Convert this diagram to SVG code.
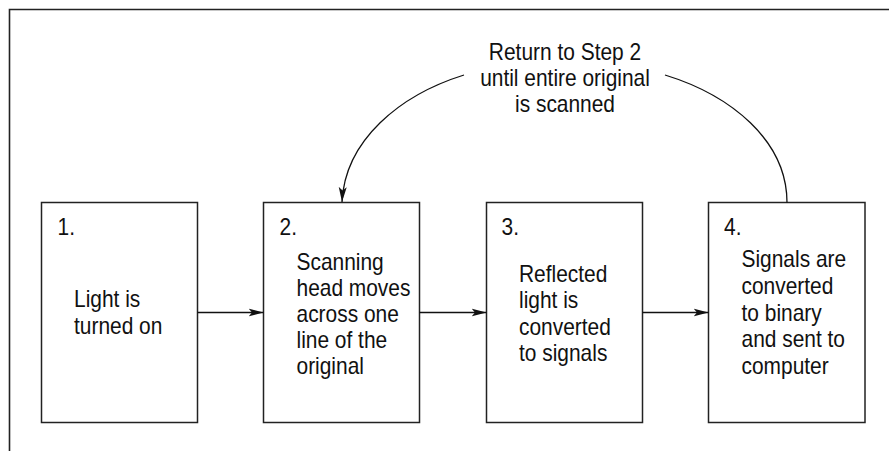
<svg xmlns="http://www.w3.org/2000/svg" width="889" height="451" viewBox="0 0 889 451">
<style>
.box{fill:#fff;stroke:#222;stroke-width:1.5}
.frame{fill:none;stroke:#222;stroke-width:1.6}
.con{fill:none;stroke:#111;stroke-width:1.3}
text{font-family:"Liberation Sans",Arial,sans-serif;font-size:23px;fill:#111}
.mid{text-anchor:middle}
</style>
<defs>
<marker id="ah" markerUnits="userSpaceOnUse" markerWidth="16" markerHeight="9" refX="15" refY="4.5" orient="auto">
<path d="M0,0.5 L15,4.5 L0,8.5 L3.5,4.5 z" fill="#111"/>
</marker>
</defs>
<path class="frame" d="M9.5,451 L9.5,9.5 L889,9.5"/>
<g id="label-loop" transform="translate(565 0) scale(0.91 1)">
<text class="mid" x="0" y="60">Return to Step 2</text>
<text class="mid" x="0" y="86">until entire original</text>
<text class="mid" x="0" y="112">is scanned</text>
</g>
<g id="step1">
<rect class="box" x="41.5" y="202.5" width="156" height="220"/>
<g transform="translate(57.5 0) scale(0.91 1)"><text x="0" y="235">1.</text></g>
<g transform="translate(74 0) scale(0.91 1)">
<text x="0" y="307.5">Light is</text>
<text x="0" y="334">turned on</text>
</g>
</g>
<g id="step2">
<rect class="box" x="263.5" y="202.5" width="156" height="220"/>
<g transform="translate(279.5 0) scale(0.91 1)"><text x="0" y="235">2.</text></g>
<g transform="translate(296.5 0) scale(0.91 1)">
<text x="0" y="270.5">Scanning</text>
<text x="0" y="296.5">head moves</text>
<text x="0" y="322.3">across one</text>
<text x="0" y="348">line of the</text>
<text x="0" y="374">original</text>
</g>
</g>
<g id="step3">
<rect class="box" x="486.5" y="202.5" width="156" height="220"/>
<g transform="translate(501.5 0) scale(0.91 1)"><text x="0" y="235">3.</text></g>
<g transform="translate(519 0) scale(0.91 1)">
<text x="0" y="281.7">Reflected</text>
<text x="0" y="308.2">light is</text>
<text x="0" y="334.7">converted</text>
<text x="0" y="361">to signals</text>
</g>
</g>
<g id="step4">
<rect class="box" x="708.5" y="202.5" width="156.5" height="220"/>
<g transform="translate(724 0) scale(0.91 1)"><text x="0" y="235">4.</text></g>
<g transform="translate(741.5 0) scale(0.91 1)">
<text x="0" y="267.5">Signals are</text>
<text x="0" y="294">converted</text>
<text x="0" y="320.7">to binary</text>
<text x="0" y="347.3">and sent to</text>
<text x="0" y="374">computer</text>
</g>
</g>
<g id="connectors">
<line class="con" x1="197.5" y1="312.5" x2="263.5" y2="312.5" marker-end="url(#ah)"/>
<line class="con" x1="419.5" y1="312.5" x2="486.5" y2="312.5" marker-end="url(#ah)"/>
<line class="con" x1="642.5" y1="312.5" x2="708.5" y2="312.5" marker-end="url(#ah)"/>
<path class="con" d="M787,202.5 C787,140 730,95 665,75"/>
<path class="con" d="M464,75 C400,95 345,140 342,202" marker-end="url(#ah)"/>
</g>
</svg>
